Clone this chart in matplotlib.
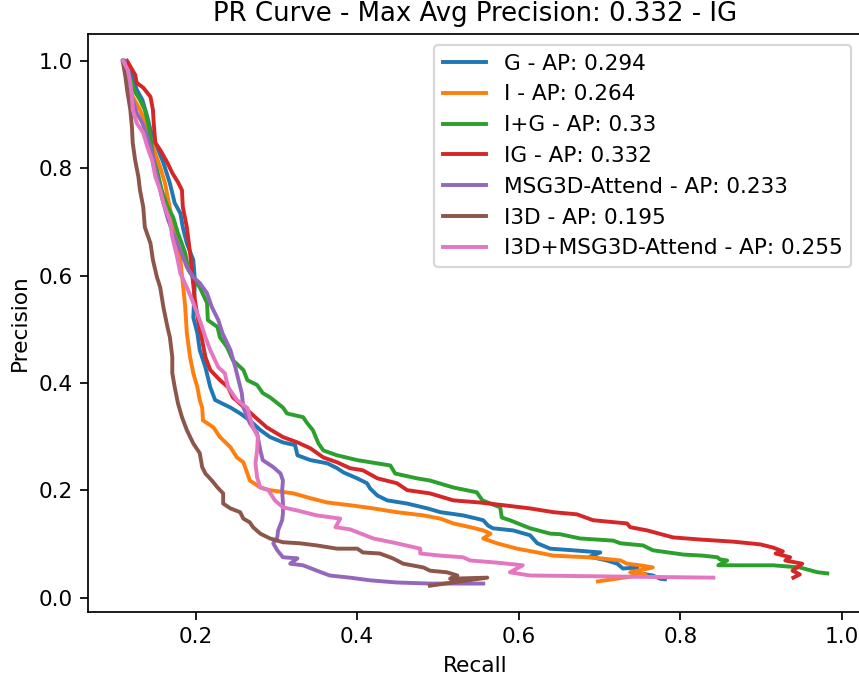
import matplotlib
matplotlib.use("Agg")
import matplotlib.pyplot as plt

title_text = "PR Curve - Max Avg Precision: 0.332 - IG"
labels = ["G - AP: 0.294", "I - AP: 0.264", "I+G - AP: 0.33", "IG - AP: 0.332",
          "MSG3D-Attend - AP: 0.233", "I3D - AP: 0.195", "I3D+MSG3D-Attend - AP: 0.255"]
colors = ["#1f77b4", "#ff7f0e", "#2ca02c", "#d62728", "#9467bd", "#8c564b", "#e377c2"]

g_recall = [0.110, 0.116, 0.122, 0.127, 0.134, 0.140, 0.144, 0.152, 0.160, 0.168, 0.174, 0.181, 0.184,
            0.189, 0.197, 0.199, 0.198, 0.197, 0.202, 0.205, 0.212, 0.218, 0.224, 0.243, 0.255, 0.267,
            0.280, 0.292, 0.308, 0.323, 0.326, 0.342, 0.363, 0.375, 0.383, 0.400, 0.412, 0.416, 0.425,
            0.437, 0.462, 0.487, 0.503, 0.531, 0.548, 0.556, 0.562, 0.568, 0.593, 0.614, 0.623, 0.639,
            0.667, 0.701, 0.688, 0.709, 0.722, 0.729, 0.747, 0.742, 0.766, 0.775, 0.781]
g_precision = [1.000, 0.996, 0.970, 0.946, 0.927, 0.896, 0.871, 0.840, 0.810, 0.772, 0.735, 0.716, 0.690,
               0.660, 0.629, 0.591, 0.554, 0.522, 0.493, 0.461, 0.429, 0.392, 0.368, 0.354, 0.343, 0.330,
               0.312, 0.299, 0.289, 0.284, 0.265, 0.256, 0.250, 0.241, 0.233, 0.222, 0.213, 0.203, 0.190,
               0.181, 0.175, 0.166, 0.159, 0.153, 0.147, 0.144, 0.134, 0.129, 0.125, 0.116, 0.101, 0.091,
               0.088, 0.084, 0.076, 0.069, 0.063, 0.054, 0.056, 0.047, 0.041, 0.035, 0.034]

i_recall = [0.110, 0.116, 0.122, 0.131, 0.140, 0.147, 0.156, 0.162, 0.166, 0.171, 0.177, 0.181, 0.184,
            0.187, 0.189, 0.193, 0.197, 0.202, 0.205, 0.208, 0.209, 0.222, 0.230, 0.243, 0.251, 0.259,
            0.264, 0.267, 0.280, 0.292, 0.321, 0.342, 0.363, 0.391, 0.420, 0.449, 0.482, 0.503, 0.519,
            0.540, 0.556, 0.565, 0.556, 0.573, 0.598, 0.623, 0.643, 0.685, 0.701, 0.726, 0.734, 0.750,
            0.766, 0.738, 0.757, 0.698]
i_precision = [1.000, 0.965, 0.933, 0.909, 0.877, 0.840, 0.802, 0.772, 0.741, 0.703, 0.666, 0.629, 0.586,
               0.541, 0.493, 0.448, 0.418, 0.392, 0.368, 0.354, 0.330, 0.317, 0.299, 0.280, 0.261, 0.252,
               0.231, 0.218, 0.205, 0.200, 0.194, 0.185, 0.177, 0.172, 0.166, 0.159, 0.153, 0.147, 0.138,
               0.131, 0.125, 0.119, 0.110, 0.101, 0.091, 0.084, 0.078, 0.075, 0.073, 0.069, 0.063, 0.060,
               0.056, 0.047, 0.043, 0.030]

ipg_recall = [0.110, 0.121, 0.125, 0.131, 0.137, 0.141, 0.144, 0.147, 0.152, 0.158, 0.165, 0.172, 0.178,
              0.187, 0.191, 0.205, 0.214, 0.215, 0.227, 0.230, 0.239, 0.246, 0.259, 0.264, 0.276, 0.283,
              0.292, 0.308, 0.313, 0.333, 0.338, 0.345, 0.352, 0.358, 0.375, 0.400, 0.441, 0.447, 0.474,
              0.490, 0.519, 0.548, 0.555, 0.577, 0.579, 0.589, 0.614, 0.639, 0.651, 0.676, 0.717, 0.726,
              0.754, 0.766, 0.804, 0.828, 0.846, 0.849, 0.858, 0.847, 0.915, 0.948, 0.970, 0.982]
ipg_precision = [1.000, 0.959, 0.942, 0.927, 0.909, 0.884, 0.858, 0.821, 0.797, 0.759, 0.728, 0.709, 0.679,
                 0.642, 0.610, 0.578, 0.549, 0.517, 0.504, 0.485, 0.466, 0.442, 0.424, 0.405, 0.396, 0.381,
                 0.373, 0.354, 0.343, 0.336, 0.325, 0.312, 0.287, 0.274, 0.265, 0.256, 0.246, 0.231, 0.222,
                 0.218, 0.205, 0.196, 0.181, 0.168, 0.149, 0.144, 0.129, 0.119, 0.118, 0.110, 0.106, 0.101,
                 0.097, 0.088, 0.080, 0.078, 0.075, 0.071, 0.069, 0.060, 0.060, 0.056, 0.047, 0.045]

ig_recall = [0.115, 0.125, 0.127, 0.135, 0.144, 0.147, 0.148, 0.150, 0.156, 0.165, 0.171, 0.178, 0.183,
             0.184, 0.189, 0.193, 0.196, 0.199, 0.203, 0.208, 0.212, 0.218, 0.230, 0.240, 0.246, 0.267,
             0.288, 0.308, 0.326, 0.342, 0.358, 0.375, 0.391, 0.407, 0.425, 0.449, 0.462, 0.490, 0.519,
             0.552, 0.581, 0.614, 0.643, 0.672, 0.692, 0.734, 0.738, 0.759, 0.791, 0.825, 0.866, 0.899,
             0.915, 0.927, 0.918, 0.936, 0.930, 0.951, 0.939, 0.948, 0.940]
ig_precision = [1.000, 0.974, 0.959, 0.950, 0.933, 0.909, 0.884, 0.847, 0.834, 0.810, 0.791, 0.774, 0.759,
                0.728, 0.690, 0.642, 0.597, 0.554, 0.517, 0.479, 0.448, 0.424, 0.405, 0.392, 0.373, 0.345,
                0.317, 0.299, 0.289, 0.278, 0.261, 0.252, 0.241, 0.237, 0.222, 0.213, 0.200, 0.194, 0.181,
                0.177, 0.172, 0.166, 0.159, 0.155, 0.144, 0.138, 0.131, 0.125, 0.112, 0.108, 0.104, 0.099,
                0.093, 0.086, 0.082, 0.075, 0.069, 0.063, 0.050, 0.043, 0.037]

msg_recall = [0.112, 0.115, 0.122, 0.127, 0.134, 0.140, 0.146, 0.150, 0.156, 0.160, 0.166, 0.172, 0.181,
              0.189, 0.197, 0.205, 0.214, 0.220, 0.228, 0.233, 0.243, 0.249, 0.253, 0.257, 0.259, 0.267,
              0.276, 0.280, 0.283, 0.296, 0.305, 0.308, 0.307, 0.308, 0.308, 0.307, 0.302, 0.301, 0.296,
              0.301, 0.308, 0.326, 0.317, 0.333, 0.350, 0.366, 0.391, 0.416, 0.449, 0.490, 0.531, 0.556]
msg_precision = [1.000, 0.965, 0.927, 0.903, 0.884, 0.858, 0.828, 0.797, 0.759, 0.735, 0.703, 0.679, 0.647,
                 0.616, 0.597, 0.586, 0.567, 0.541, 0.517, 0.493, 0.461, 0.429, 0.405, 0.381, 0.354, 0.325,
                 0.306, 0.274, 0.256, 0.243, 0.231, 0.218, 0.200, 0.175, 0.157, 0.144, 0.125, 0.112, 0.101,
                 0.088, 0.075, 0.073, 0.063, 0.060, 0.050, 0.041, 0.037, 0.032, 0.028, 0.026, 0.026, 0.026]

i3d_recall = [0.110, 0.110, 0.113, 0.115, 0.119, 0.121, 0.122, 0.125, 0.129, 0.131, 0.135, 0.137, 0.144,
              0.147, 0.152, 0.156, 0.160, 0.165, 0.168, 0.171, 0.171, 0.174, 0.178, 0.183, 0.189, 0.197,
              0.205, 0.208, 0.212, 0.220, 0.227, 0.234, 0.234, 0.243, 0.255, 0.259, 0.267, 0.271, 0.280,
              0.292, 0.308, 0.329, 0.350, 0.375, 0.400, 0.407, 0.428, 0.444, 0.457, 0.482, 0.490, 0.511,
              0.524, 0.515, 0.561, 0.490]
i3d_precision = [1.000, 0.996, 0.970, 0.946, 0.909, 0.877, 0.847, 0.815, 0.784, 0.759, 0.728, 0.690, 0.660,
                 0.629, 0.597, 0.578, 0.541, 0.504, 0.485, 0.448, 0.418, 0.392, 0.362, 0.336, 0.312, 0.287,
                 0.269, 0.243, 0.231, 0.218, 0.205, 0.194, 0.175, 0.166, 0.159, 0.147, 0.140, 0.131, 0.119,
                 0.110, 0.103, 0.101, 0.097, 0.091, 0.091, 0.084, 0.082, 0.073, 0.063, 0.056, 0.050, 0.047,
                 0.041, 0.035, 0.037, 0.022]

comb_recall = [0.110, 0.116, 0.119, 0.121, 0.122, 0.127, 0.135, 0.140, 0.146, 0.150, 0.156, 0.160, 0.168,
               0.171, 0.177, 0.181, 0.189, 0.197, 0.205, 0.212, 0.218, 0.228, 0.236, 0.240, 0.251, 0.264,
               0.267, 0.271, 0.277, 0.276, 0.274, 0.276, 0.280, 0.290, 0.298, 0.308, 0.326, 0.350, 0.379,
               0.373, 0.391, 0.420, 0.449, 0.478, 0.478, 0.503, 0.531, 0.540, 0.573, 0.605, 0.589, 0.614,
               0.841]
comb_precision = [1.000, 0.983, 0.959, 0.933, 0.909, 0.884, 0.866, 0.840, 0.815, 0.784, 0.759, 0.735, 0.703,
                  0.672, 0.634, 0.604, 0.578, 0.549, 0.517, 0.485, 0.461, 0.429, 0.418, 0.392, 0.368, 0.353,
                  0.336, 0.317, 0.299, 0.274, 0.250, 0.224, 0.205, 0.200, 0.181, 0.168, 0.162, 0.153, 0.147,
                  0.131, 0.127, 0.110, 0.101, 0.091, 0.082, 0.078, 0.075, 0.069, 0.065, 0.060, 0.047, 0.041,
                  0.037]

series = [(g_recall, g_precision), (i_recall, i_precision), (ipg_recall, ipg_precision),
          (ig_recall, ig_precision), (msg_recall, msg_precision), (i3d_recall, i3d_precision),
          (comb_recall, comb_precision)]

dpi = 156
fig = plt.figure(figsize=(859 / dpi, 678 / dpi), dpi=dpi)
ax = fig.add_axes([88.3 / 859, 1 - 612 / 678, (862 - 88.3) / 859, (612 - 34) / 678])

for (r, p), lab, c in zip(series, labels, colors):
    ax.plot(r, p, color=c, label=lab, linewidth=1.8)

ax.set_xlim(0.067, 1.025)
ax.set_ylim(-0.027, 1.050)
ax.set_xticks([0.2, 0.4, 0.6, 0.8, 1.0])
ax.set_yticks([0.0, 0.2, 0.4, 0.6, 0.8, 1.0])
ax.set_xlabel("Recall")
ax.set_ylabel("Precision")
ax.set_title(title_text)
leg = ax.legend(loc="upper right")
for line in leg.get_lines():
    line.set_linewidth(1.8)

fig.savefig("out.png", dpi=dpi)
